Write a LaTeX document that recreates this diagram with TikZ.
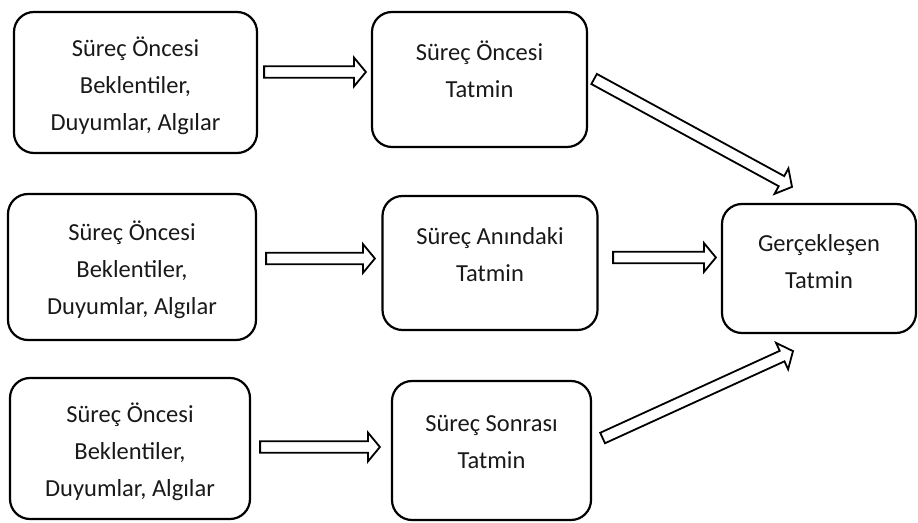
\documentclass[tikz,border=0pt]{standalone}
\usepackage{fontspec}
\setmainfont{Carlito}
\usetikzlibrary{calc}

% hollow block arrow from tail #1 to tip #2
\newcommand\blockarrow[2]{%
  \coordinate (hb) at ($(#2)!12pt!(#1)$);
  \draw[barrow]
    ($(#1)!5.75pt!90:(#2)$) -- ($(hb)!5.75pt!90:(#2)$) --
    ($(hb)!14.5pt!90:(#2)$) -- (#2) --
    ($(hb)!14.5pt!-90:(#2)$) -- ($(hb)!5.75pt!-90:(#2)$) --
    ($(#1)!5.75pt!-90:(#2)$) -- cycle;
}

\tikzset{
  box/.style={draw, line width=2.2pt, rounded corners=20pt, inner sep=0pt},
  lbl/.style={align=center, inner sep=0pt, text=black!90,
              font=\fontsize{24.5}{37}\selectfont},
  barrow/.style={draw, line width=1.8pt, fill=white, line join=miter},
}

\begin{document}
\begin{tikzpicture}[x=1pt,y=1pt]
\useasboundingbox (0,0) rectangle (918,522);

% boxes
\node[box, minimum width=243pt, minimum height=141pt] (L1) at (135.5,439.5) {};
\node[box, minimum width=215pt, minimum height=135pt] (M1) at (479.5,442.5) {};
\node[box, minimum width=248pt, minimum height=146pt] (L2) at (132,255) {};
\node[box, minimum width=215pt, minimum height=134pt] (M2) at (490,259) {};
\node[box, minimum width=194pt, minimum height=129pt] (R)  at (819,253.5) {};
\node[box, minimum width=240pt, minimum height=141pt] (L3) at (130,73.5) {};
\node[box, minimum width=199pt, minimum height=139pt] (M3) at (491.5,71.5) {};

% texts
\node[lbl] (L1t) at ($(L1.center)+(0,-3)$) {Süreç Öncesi\\Beklentiler,\\Duyumlar, Algılar};
\node[lbl] (L2t) at ($(L2.center)+(0,-3)$) {Süreç Öncesi\\Beklentiler,\\Duyumlar, Algılar};
\node[lbl] (L3t) at ($(L3.center)+(0,-3)$) {Süreç Öncesi\\Beklentiler,\\Duyumlar, Algılar};
\node[lbl] (M1t) at ($(M1.center)+(0,10)$) {Süreç Öncesi\\Tatmin};
\node[lbl] (M2t) at ($(M2.center)+(0,8)$) {Süreç Anındaki\\Tatmin};
\node[lbl] (M3t) at ($(M3.center)+(0,9)$) {Süreç Sonrası\\Tatmin};
\node[lbl] (Rt)  at ($(R.center)+(0,7)$) {Gerçekleşen\\Tatmin};

% arrow ends
\coordinate (a1s) at ($(L1.east)+(6,10.5)$);
\coordinate (a1e) at ($(M1.west)+(-5,7.5)$);
\coordinate (a2s) at ($(L2.east)+(9,8.5)$);
\coordinate (a2e) at ($(M2.west)+(-6.5,4.5)$);
\coordinate (a3s) at ($(L3.east)+(9,1.5)$);
\coordinate (a3e) at ($(M3.west)+(-11,3.5)$);
\coordinate (a4s) at ($(M2.east)+(14.5,5.5)$);
\coordinate (a4e) at ($(R.west)+(-5,11)$);
\coordinate (a5s) at ($(M1.east)+(6,0.5)$);
\coordinate (a5e) at ($(R.north)+(-27,16)$);
\coordinate (a6s) at ($(M3.east)+(10.5,12.5)$);
\coordinate (a6e) at ($(R.south)+(-26,-17)$);

% connectors
\blockarrow{a1s}{a1e}
\blockarrow{a2s}{a2e}
\blockarrow{a3s}{a3e}
\blockarrow{a4s}{a4e}
\blockarrow{a5s}{a5e}
\blockarrow{a6s}{a6e}
\end{tikzpicture}
\end{document}
